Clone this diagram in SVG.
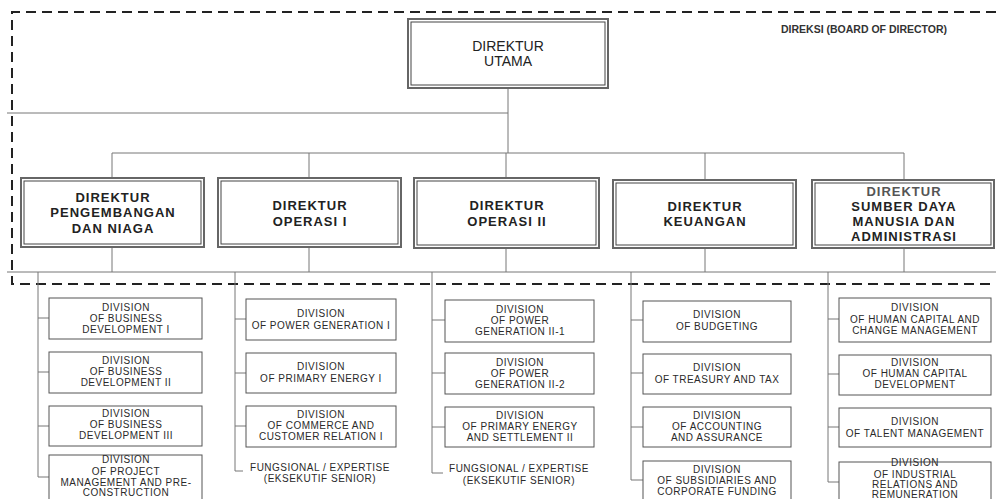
<svg xmlns="http://www.w3.org/2000/svg" width="996" height="499" viewBox="0 0 996 499">
<style>
.dash{fill:none;stroke:#222;stroke-width:2;stroke-dasharray:10 6}
.ln{fill:none;stroke:#777;stroke-width:1}
.outer{fill:#fff;stroke:#666;stroke-width:2}
.inner{fill:#fff;stroke:#444;stroke-width:1}
.div{fill:#fff;stroke:#555;stroke-width:1}
.dt{font-family:"Liberation Sans",Arial,sans-serif;font-size:13px;font-weight:bold;fill:#222;text-anchor:middle;letter-spacing:1px}
.ut{font-family:"Liberation Sans",Arial,sans-serif;font-size:14px;fill:#222;text-anchor:middle}
.bd{font-family:"Liberation Sans",Arial,sans-serif;font-size:10.5px;font-weight:bold;fill:#333}
.vt{font-family:"Liberation Sans",Arial,sans-serif;font-size:10px;fill:#2a2a2a;text-anchor:middle;letter-spacing:0.5px}
</style>
<rect width="996" height="499" fill="#fff"/>
<g id="board">
<path class="dash" d="M996 12 H12 V284 H996"/>
<text class="bd" x="781" y="33">DIREKSI (BOARD OF DIRECTOR)</text>
</g>
<g id="connectors">
<path class="ln" d="M508 88 V153 M7 113 H508 M112 153 H904 M112 153 V178 M309 153 V178 M506 153 V178 M705 153 V180 M904 153 V180"/>
<path class="ln" d="M112 247 V272 M309 247 V272 M506 247 V272 M705 248 V272 M904 248 V272 M7 272 H996"/>
<path class="ln" d="M38 272 V477 M38 318 H49 M38 372 H49 M38 426 H49 M38 477 H49"/>
<path class="ln" d="M235 272 V471 H243 M235 319 H246 M235 373 H246 M235 426 H246"/>
<path class="ln" d="M432 272 V473 H443 M432 320 H445 M432 373 H445 M432 427 H445"/>
<path class="ln" d="M631 272 V480 H643 M631 320 H643 M631 373 H643 M631 427 H643"/>
<path class="ln" d="M828 272 V482 H839 M828 319 H839 M828 374 H839 M828 427 H839"/>
</g>
<g id="direktur-utama">
<rect class="outer" x="408" y="19" width="200" height="69"/>
<rect class="inner" x="411" y="22" width="194" height="63"/>
<text class="ut" x="508" y="51">DIREKTUR</text>
<text class="ut" x="508" y="66">UTAMA</text>
</g>
<g id="dir-pengembangan">
<rect class="outer" x="21" y="178" width="183" height="69"/>
<rect class="inner" x="24" y="181" width="177" height="63"/>
<text class="dt" x="113" y="202">DIREKTUR</text>
<text class="dt" x="113" y="217">PENGEMBANGAN</text>
<text class="dt" x="113" y="233">DAN NIAGA</text>
</g>
<g id="dir-operasi1">
<rect class="outer" x="218" y="178" width="183" height="69"/>
<rect class="inner" x="221" y="181" width="177" height="63"/>
<text class="dt" x="310" y="210">DIREKTUR</text>
<text class="dt" x="310" y="226">OPERASI I</text>
</g>
<g id="dir-operasi2">
<rect class="outer" x="414" y="178" width="185" height="70"/>
<rect class="inner" x="417" y="181" width="179" height="64"/>
<text class="dt" x="507" y="210">DIREKTUR</text>
<text class="dt" x="507" y="226">OPERASI II</text>
</g>
<g id="dir-keuangan">
<rect class="outer" x="613" y="180" width="183" height="68"/>
<rect class="inner" x="616" y="183" width="177" height="62"/>
<text class="dt" x="705" y="211">DIREKTUR</text>
<text class="dt" x="705" y="226">KEUANGAN</text>
</g>
<g id="dir-sdm">
<rect class="outer" x="812" y="180" width="182" height="68"/>
<rect class="inner" x="815" y="183" width="176" height="62"/>
<text class="dt" x="904" y="196" style="fill:#555">DIREKTUR</text>
<text class="dt" x="904" y="211">SUMBER DAYA</text>
<text class="dt" x="904" y="226">MANUSIA DAN</text>
<text class="dt" x="904" y="241">ADMINISTRASI</text>
</g>
<g id="div-bd1"><rect class="div" x="49" y="298" width="153" height="41"/>
<text class="vt" x="126" y="311">DIVISION</text><text class="vt" x="126" y="322">OF BUSINESS</text><text class="vt" x="126" y="333">DEVELOPMENT I</text></g>
<g id="div-bd2"><rect class="div" x="49" y="352" width="153" height="41"/>
<text class="vt" x="126" y="364">DIVISION</text><text class="vt" x="126" y="375">OF BUSINESS</text><text class="vt" x="126" y="386">DEVELOPMENT II</text></g>
<g id="div-bd3"><rect class="div" x="49" y="406" width="153" height="40"/>
<text class="vt" x="126" y="417">DIVISION</text><text class="vt" x="126" y="428">OF BUSINESS</text><text class="vt" x="126" y="439">DEVELOPMENT III</text></g>
<g id="div-pm"><rect class="div" x="49" y="455" width="153" height="50"/>
<text class="vt" x="126" y="463">DIVISION</text><text class="vt" x="126" y="475">OF PROJECT</text><text class="vt" x="126" y="486">MANAGEMENT AND PRE-</text><text class="vt" x="126" y="496">CONSTRUCTION</text></g>
<g id="div-pg1"><rect class="div" x="246" y="299" width="150" height="41"/>
<text class="vt" x="321" y="317">DIVISION</text><text class="vt" x="321" y="329">OF POWER GENERATION I</text></g>
<g id="div-pe1"><rect class="div" x="246" y="353" width="150" height="40"/>
<text class="vt" x="321" y="370">DIVISION</text><text class="vt" x="321" y="382">OF PRIMARY ENERGY I</text></g>
<g id="div-ccr1"><rect class="div" x="246" y="406" width="150" height="41"/>
<text class="vt" x="321" y="418">DIVISION</text><text class="vt" x="321" y="429">OF COMMERCE AND</text><text class="vt" x="321" y="440">CUSTOMER RELATION I</text></g>
<g id="fung1"><text class="vt" x="320" y="471">FUNGSIONAL / EXPERTISE</text><text class="vt" x="320" y="482">(EKSEKUTIF SENIOR)</text></g>
<g id="div-pg21"><rect class="div" x="445" y="300" width="149" height="42"/>
<text class="vt" x="520" y="313">DIVISION</text><text class="vt" x="520" y="324">OF POWER</text><text class="vt" x="520" y="335">GENERATION II-1</text></g>
<g id="div-pg22"><rect class="div" x="445" y="353" width="149" height="41"/>
<text class="vt" x="520" y="366">DIVISION</text><text class="vt" x="520" y="377">OF POWER</text><text class="vt" x="520" y="388">GENERATION II-2</text></g>
<g id="div-pe2"><rect class="div" x="445" y="407" width="149" height="40"/>
<text class="vt" x="520" y="419">DIVISION</text><text class="vt" x="520" y="430">OF PRIMARY ENERGY</text><text class="vt" x="520" y="441">AND SETTLEMENT II</text></g>
<g id="fung2"><text class="vt" x="519" y="472">FUNGSIONAL / EXPERTISE</text><text class="vt" x="519" y="484">(EKSEKUTIF SENIOR)</text></g>
<g id="div-budget"><rect class="div" x="643" y="301" width="148" height="41"/>
<text class="vt" x="717" y="318">DIVISION</text><text class="vt" x="717" y="330">OF BUDGETING</text></g>
<g id="div-treasury"><rect class="div" x="643" y="354" width="148" height="40"/>
<text class="vt" x="717" y="371">DIVISION</text><text class="vt" x="717" y="383">OF TREASURY AND TAX</text></g>
<g id="div-acc"><rect class="div" x="643" y="407" width="148" height="40"/>
<text class="vt" x="717" y="419">DIVISION</text><text class="vt" x="717" y="430">OF ACCOUNTING</text><text class="vt" x="717" y="441">AND ASSURANCE</text></g>
<g id="div-subs"><rect class="div" x="643" y="461" width="148" height="45"/>
<text class="vt" x="717" y="473">DIVISION</text><text class="vt" x="717" y="484">OF SUBSIDIARIES AND</text><text class="vt" x="717" y="495">CORPORATE FUNDING</text></g>
<g id="div-hccm"><rect class="div" x="839" y="298" width="152" height="44"/>
<text class="vt" x="915" y="311">DIVISION</text><text class="vt" x="915" y="323">OF HUMAN CAPITAL AND</text><text class="vt" x="915" y="334">CHANGE MANAGEMENT</text></g>
<g id="div-hcd"><rect class="div" x="839" y="355" width="152" height="40"/>
<text class="vt" x="915" y="366">DIVISION</text><text class="vt" x="915" y="377">OF HUMAN CAPITAL</text><text class="vt" x="915" y="388">DEVELOPMENT</text></g>
<g id="div-talent"><rect class="div" x="839" y="408" width="152" height="39"/>
<text class="vt" x="915" y="425">DIVISION</text><text class="vt" x="915" y="437">OF TALENT MANAGEMENT</text></g>
<g id="div-irr"><rect class="div" x="839" y="462" width="152" height="45"/>
<text class="vt" x="915" y="466">DIVISION</text><text class="vt" x="915" y="478">OF INDUSTRIAL</text><text class="vt" x="915" y="488">RELATIONS AND</text><text class="vt" x="915" y="498">REMUNERATION</text></g>
</svg>
